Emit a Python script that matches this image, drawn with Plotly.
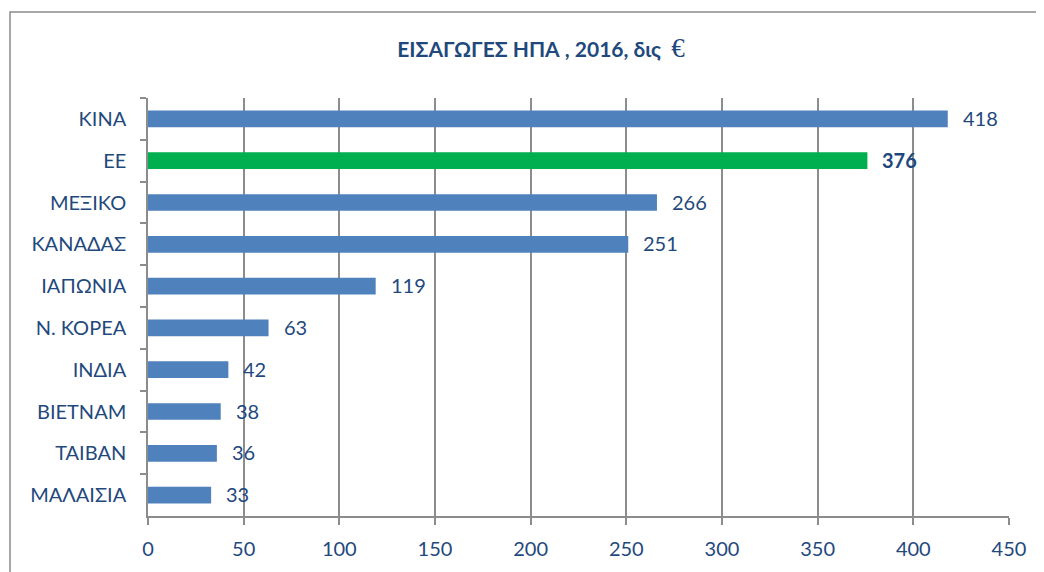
import plotly.graph_objects as go

categories = ["ΚΙΝΑ", "ΕΕ", "ΜΕΞΙΚΟ", "ΚΑΝΑΔΑΣ", "ΙΑΠΩΝΙΑ", "Ν. ΚΟΡΕΑ", "ΙΝΔΙΑ", "ΒΙΕΤΝΑΜ", "ΤΑΙΒΑΝ", "ΜΑΛΑΙΣΙΑ"]
values = [418, 376, 266, 251, 119, 63, 42, 38, 36, 33]
highlight = "ΕΕ"
x_ticks = [0, 50, 100, 150, 200, 250, 300, 350, 400, 450]

BLUE = "#4F81BD"
GREEN = "#00B050"
TXT = "#1F497D"
GRID = "#8C8C8C"
FONT = "Lato"

colors = [GREEN if c == highlight else BLUE for c in categories]

# page body has an 8px margin -> compensate
OFF = 8
W, H = 1044 - OFF, 572 - OFF
L, R, T, B = 148 - OFF, 35, 98 - OFF, 56
pw, ph = W - L - R, H - T - B

fig = go.Figure(go.Bar(
    x=values, y=categories, orientation="h",
    marker=dict(color=colors, line=dict(width=0)),
    width=0.4, hoverinfo="x+y",
))

for c, v in zip(categories, values):
    fig.add_annotation(
        x=v, y=c, xref="x", yref="y", xanchor="left", yanchor="middle",
        xshift=13, yshift=1, showarrow=False,
        text=f"<b>{v}</b>" if c == highlight else str(v),
        font=dict(color=TXT, size=20, family=FONT),
    )

fig.update_layout(
    width=W, height=H,
    margin=dict(l=L, r=R, t=T, b=B),
    paper_bgcolor="white", plot_bgcolor="white",
    showlegend=False,
    title=dict(
        text="<b>ΕΙΣΑΓΩΓΕΣ ΗΠΑ , 2016, δις  </b><span style='font-family:Liberation Serif;font-size:27px'>€</span>",
        x=(541 - OFF) / W, xanchor="center", y=1 - (50 - OFF) / H, yanchor="middle",
        font=dict(color=TXT, size=21, family=FONT),
    ),
    xaxis=dict(
        range=[0, 450], tickvals=x_ticks, showgrid=True, gridcolor=GRID, gridwidth=1.5,
        zeroline=False, showline=True, linecolor=GRID, linewidth=1.5,
        ticks="outside", ticklen=7, tickcolor=GRID, tickwidth=1.5,
        tickfont=dict(color=TXT, size=20, family=FONT), ticklabelstandoff=7,
    ),
    yaxis=dict(
        categoryorder="array", categoryarray=categories, autorange="reversed",
        showline=True, linecolor=GRID, linewidth=1.5, showgrid=False,
        ticks="outside", ticklen=6, tickcolor=GRID, tickwidth=1.5, tickson="boundaries",
        tickfont=dict(color=TXT, size=20, family=FONT), ticklabelstandoff=16,
    ),
    bargap=0.6,
)

# outer chart frame
fig.add_shape(type="rect", xref="paper", yref="paper",
              x0=(10 - 148) / pw, x1=(1060 - 148) / pw,
              y0=-(600 - 516) / ph, y1=1 + (98 - 12) / ph,
              line=dict(color=GRID, width=1.5), fillcolor="rgba(0,0,0,0)", layer="below")

fig.write_html("out.html")
